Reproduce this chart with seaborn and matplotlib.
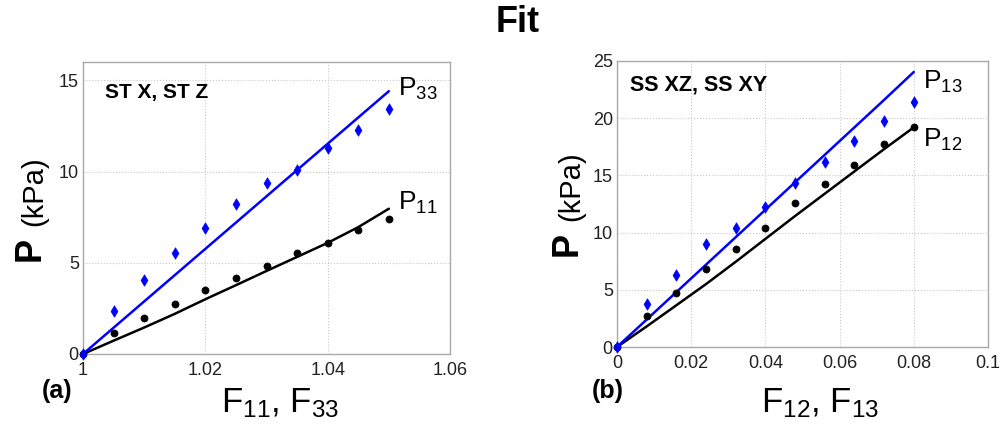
import numpy as np
import pandas as pd
import seaborn as sns
import matplotlib.pyplot as plt
from matplotlib.ticker import FixedLocator, FuncFormatter

# ---- data -------------------------------------------------------------
# (a) uniaxial stretch tests
stretch = [1.0, 1.005, 1.01, 1.015, 1.02, 1.025, 1.03, 1.035, 1.04, 1.045, 1.05]
p33_meas = [0.0, 2.33, 4.05, 5.55, 6.9, 8.2, 9.36, 10.1, 11.3, 12.3, 13.45]
p11_meas = [0.0, 1.15, 2.0, 2.73, 3.49, 4.18, 4.82, 5.55, 6.09, 6.78, 7.4]
p33_fit = [0.0, 1.44, 2.88, 4.32, 5.76, 7.2, 8.64, 10.08, 11.52, 12.96, 14.4]
p11_fit = [0.0, 0.73, 1.45, 2.2, 3.0, 3.77, 4.55, 5.32, 6.09, 6.95, 7.96]

# (b) simple shear tests
shear = [0.0, 0.008, 0.016, 0.024, 0.032, 0.04, 0.048, 0.056, 0.064, 0.072, 0.08]
p13_meas = [0.0, 3.79, 6.32, 9.03, 10.4, 12.24, 14.34, 16.17, 17.98, 19.73, 21.39]
p12_meas = [0.0, 2.68, 4.75, 6.79, 8.6, 10.43, 12.59, 14.22, 15.88, 17.72, 19.23]
p13_fit = [0.0, 2.4, 4.8, 7.2, 9.6, 12.0, 14.4, 16.8, 19.2, 21.6, 24.04]
p12_fit = [0.0, 1.8, 3.65, 5.5, 7.45, 9.45, 11.45, 13.4, 15.35, 17.3, 19.2]

xticks_a = [1.0, 1.02, 1.04, 1.06]
yticks_a = [0, 5, 10, 15]
xticks_b = [0.0, 0.02, 0.04, 0.06, 0.08, 0.1]
yticks_b = [0, 5, 10, 15, 20, 25]

# ---- style ------------------------------------------------------------
sns.set_style("whitegrid")
plt.rcParams["font.family"] = ["Liberation Sans", "DejaVu Sans"]
plt.rcParams["text.color"] = "black"
plt.rcParams["axes.labelcolor"] = "black"
plt.rcParams["mathtext.fontset"] = "custom"
plt.rcParams["mathtext.rm"] = "Liberation Sans"
plt.rcParams["mathtext.it"] = "Liberation Sans"
plt.rcParams["mathtext.bf"] = "Liberation Sans:bold"

BLUE = "#0000ff"
BLACK = "#000000"

fig = plt.figure(figsize=(10.05, 4.28), dpi=100)
W, H = 1005, 428


def axes_px(x0, y_top, x1, y_bot):
    return fig.add_axes([x0 / W, 1 - y_bot / H, (x1 - x0) / W, (y_bot - y_top) / H])


ax_a = axes_px(83, 62, 450, 354)
ax_b = axes_px(617, 61, 988, 347)

df_a = pd.DataFrame({"x": stretch, "P33": p33_meas, "P11": p11_meas,
                     "P33fit": p33_fit, "P11fit": p11_fit})
df_b = pd.DataFrame({"x": shear, "P13": p13_meas, "P12": p12_meas,
                     "P13fit": p13_fit, "P12fit": p12_fit})


def draw_panel(ax, df, lines, points):
    for col, color in lines:
        sns.lineplot(data=df, x="x", y=col, color=color, lw=1.8, ax=ax,
                     legend=False, zorder=3)
    for col, color, marker, size in points:
        sns.scatterplot(data=df, x="x", y=col, color=color, marker=marker,
                        s=size, edgecolor=color, linewidth=0.5, ax=ax,
                        legend=False, zorder=4, clip_on=False)


draw_panel(ax_a, df_a,
           [("P11fit", BLACK), ("P33fit", BLUE)],
           [("P11", BLACK, "o", 26), ("P33", BLUE, "d", 34)])
draw_panel(ax_b, df_b,
           [("P12fit", BLACK), ("P13fit", BLUE)],
           [("P12", BLACK, "o", 26), ("P13", BLUE, "d", 34)])


def fmt(v, _):
    return "%g" % round(v, 4)


for ax, xt, yt, xl, yl in [(ax_a, xticks_a, yticks_a, (1.0, 1.06), (0, 16)),
                           (ax_b, xticks_b, yticks_b, (0.0, 0.1), (0, 25))]:
    ax.set_xlim(*xl)
    ax.set_ylim(*yl)
    ax.xaxis.set_major_locator(FixedLocator(xt))
    ax.yaxis.set_major_locator(FixedLocator(yt))
    ax.xaxis.set_major_formatter(FuncFormatter(fmt))
    ax.yaxis.set_major_formatter(FuncFormatter(fmt))
    ax.grid(True, color="#c8c8c8", linestyle=":", linewidth=0.8)
    for sp in ax.spines.values():
        sp.set_visible(True)
        sp.set_color("#aaaaaa")
        sp.set_linewidth(1.0)
    ax.tick_params(direction="in", length=3, width=0.8, color="#888888",
                   labelsize=13, labelcolor="#222222",
                   top=False, right=False)
    ax.tick_params(axis="x", pad=6)
    ax.tick_params(axis="y", pad=3)
    ax.set_ylabel("")

ax_a.set_xlabel(r"F$_{11}$, F$_{33}$", fontsize=25)
ax_b.set_xlabel(r"F$_{12}$, F$_{13}$", fontsize=25)
ax_a.xaxis.set_label_coords(0.537, -0.11)
ax_b.xaxis.set_label_coords(0.547, -0.136)

# y labels: bold P followed by the unit
for ax, xf in [(ax_a, -0.145), (ax_b, -0.135)]:
    ax.text(xf, 0.36, "P", transform=ax.transAxes, rotation=90,
            fontsize=26, fontweight="bold", ha="center", va="center")
    ax.text(xf + 0.012, 0.44, "(kPa)", transform=ax.transAxes, rotation=90,
            fontsize=21, ha="center", va="bottom")

# test names inside the panels
ax_a.text(0.06, 0.895, "ST X, ST Z", transform=ax_a.transAxes,
          fontsize=15, fontweight="bold", ha="left", va="center")
ax_b.text(0.035, 0.915, "SS XZ, SS XY", transform=ax_b.transAxes,
          fontsize=15.5, fontweight="bold", ha="left", va="center")

# curve labels
ax_a.text(1.0515, 14.5, r"P$_{33}$", fontsize=19, ha="left", va="center")
ax_a.text(1.0515, 8.3, r"P$_{11}$", fontsize=19, ha="left", va="center")
ax_b.text(0.0825, 23.2, r"P$_{13}$", fontsize=19, ha="left", va="center")
ax_b.text(0.0825, 18.1, r"P$_{12}$", fontsize=19, ha="left", va="center")

# panel tags
fig.text(42 / W, 1 - 391 / H, "(a)", fontsize=18, fontweight="bold",
         ha="left", va="center")
fig.text(592 / W, 1 - 391 / H, "(b)", fontsize=18, fontweight="bold",
         ha="left", va="center")

fig.text(518 / W, 1 - 22 / H, "Fit", fontsize=26, fontweight="bold",
         ha="center", va="center")

fig.savefig("out.png", dpi=100)
